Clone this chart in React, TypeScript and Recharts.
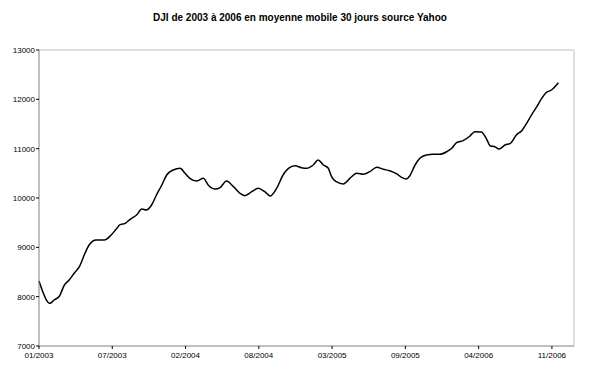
import React from "react";
import { LineChart, Line, XAxis, YAxis, ReferenceLine } from "recharts";

const dayIndex: number[] = [
  0, 7, 13, 20, 28, 38, 47, 56, 66, 75, 84, 93, 106, 121, 134, 143, 150, 160, 169, 181,
  191, 199, 209, 218, 228, 237, 249, 262, 271, 280, 293, 305, 314, 327, 336, 348, 361, 373, 382, 395,
  407, 419, 429, 441, 453, 463, 475, 487, 497, 509, 518, 528, 537, 543, 552, 565, 577, 590, 602, 614,
  627, 639, 651, 664, 673, 682, 688, 698, 707, 719, 732, 744, 757, 766, 775, 787, 800, 809, 821, 830,
  838, 846, 854, 865, 875, 886, 896, 905, 914, 924, 933, 941, 951, 964,
];

const djiValues: number[] = [
  8317, 8100, 7946, 7865, 7932, 8013, 8236, 8338, 8486, 8608, 8845, 9047, 9149, 9149, 9250, 9365, 9453, 9487, 9568, 9655,
  9777, 9757, 9858, 10061, 10264, 10466, 10568, 10602, 10500, 10399, 10345, 10399, 10264, 10180, 10210, 10345, 10230, 10095, 10047, 10128,
  10196, 10128, 10041, 10196, 10466, 10602, 10655, 10615, 10602, 10669, 10770, 10669, 10602, 10432, 10331, 10284, 10399, 10500, 10480, 10534,
  10622, 10581, 10554, 10487, 10419, 10385, 10446, 10669, 10804, 10871, 10885, 10885, 10939, 11007, 11121, 11162, 11257, 11345, 11340, 11210,
  11054, 11040, 10993, 11074, 11108, 11277, 11365, 11514, 11682, 11851, 12020, 12135, 12189, 12338,
];

const xTickPositions: number[] = [0, 136, 272, 408, 544, 680, 816, 952];
const xTickLabels: string[] = ["01/2003", "07/2003", "02/2004", "08/2004", "03/2005", "09/2005", "04/2006", "11/2006"];
const yTicks: number[] = [7000, 8000, 9000, 10000, 11000, 12000, 13000];

const xMax = 993;

const data = dayIndex.map((d, i) => ({ day: d, value: djiValues[i] }));

const font = "'Liberation Sans', Arial, sans-serif";

export default function App() {
  return (
    <div style={{ position: "absolute", left: 0, top: 0, width: 600, height: 374, background: "#fff" }}>
      <div
        style={{
          position: "absolute",
          left: 0,
          top: 12,
          width: 600,
          textAlign: "center",
          fontFamily: font,
          fontWeight: "bold",
          fontSize: 10,
          color: "#000",
        }}
      >
        DJI de 2003 à 2006 en moyenne mobile 30 jours source Yahoo
      </div>
      <LineChart width={600} height={374} data={data} margin={{ top: 50, right: 26, bottom: 0, left: 0 }}>
        <ReferenceLine y={13000} stroke="#c0c0c0" strokeWidth={1} />
        <ReferenceLine x={xMax} stroke="#c0c0c0" strokeWidth={1} />
        <XAxis
          dataKey="day"
          type="number"
          domain={[0, xMax]}
          ticks={xTickPositions}
          tickFormatter={(v: number) => xTickLabels[xTickPositions.indexOf(v)] ?? ""}
          height={28}
          tickSize={3}
          tickMargin={3}
          stroke="#808080"
          tick={{ fill: "#000", fontSize: 8, fontFamily: font }}
          tickLine={{ stroke: "#000" }}
          interval={0}
        />
        <YAxis
          type="number"
          domain={[7000, 13000]}
          ticks={yTicks}
          width={39}
          tickSize={3}
          tickMargin={1}
          stroke="#808080"
          tick={{ fill: "#000", fontSize: 8, fontFamily: font }}
          tickLine={{ stroke: "#000" }}
          interval={0}
        />
        <Line
          type="monotone"
          dataKey="value"
          stroke="#000"
          strokeWidth={1.5}
          dot={false}
          isAnimationActive={false}
        />
      </LineChart>
    </div>
  );
}
